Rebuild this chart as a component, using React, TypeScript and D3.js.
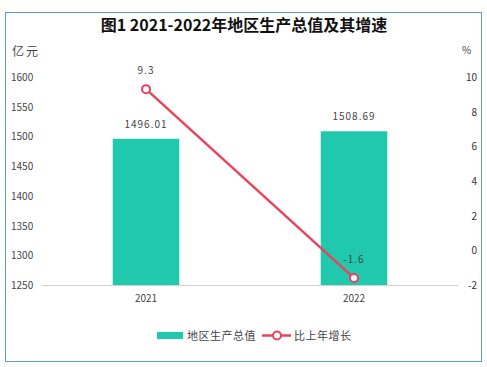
import { useEffect, useRef } from 'react';
import * as d3 from 'd3';

const years = ['2021', '2022'];
const gdp = [1496.01, 1508.69];
const growth = [9.3, -1.6];
const leftTicks = [1250, 1300, 1350, 1400, 1450, 1500, 1550, 1600];
const rightTicks = [-2, 0, 2, 4, 6, 8, 10];

const W = 487;
const H = 367;
const FONT = '"Noto Sans CJK SC", "Noto Sans", sans-serif';

export default function App() {
  const svgRef = useRef<SVGSVGElement>(null);

  useEffect(() => {
    if (!svgRef.current) return;
    const svg = d3.select(svgRef.current);
    svg.selectAll('*').remove();

    const left = 42, right = 458, top = 77, bottom = 285;

    const x = d3.scaleBand<string>().domain(years).range([left, right]).paddingInner(0.68).paddingOuter(0.34);
    const yL = d3.scaleLinear().domain([1250, 1600]).range([bottom, top]);
    const yR = d3.scaleLinear().domain([-2, 10]).range([bottom, top]);

    // border
    svg.append('rect')
      .attr('x', 5.5).attr('y', 12.5).attr('width', 476).attr('height', 349)
      .attr('fill', '#fff').attr('stroke', '#5b9bd5').attr('stroke-width', 1);

    // title
    const title = svg.append('text')
      .attr('x', 244).attr('y', 31)
      .attr('text-anchor', 'middle')
      .style('font-family', FONT).style('font-size', '16px')
      .style('fill', '#111');
    title.append('tspan').style('font-weight', 'bold').text('图1');
    title.append('tspan').style('font-weight', 'bold').text(' 2021-2022年地区生产总值及其增速');

    svg.append('text').attr('x', 12).attr('y', 56)
      .style('font-family', FONT).style('font-size', '12px').style('fill', '#444')
      .style('letter-spacing', '2px').text('亿元');
    svg.append('text').attr('x', 462).attr('y', 54)
      .style('font-family', FONT).style('font-size', '10px').style('fill', '#444').text('%');

    // left ticks
    svg.append('g').selectAll('text').data(leftTicks).join('text')
      .attr('x', 11).attr('y', d => yL(d) + 4)
      .style('font-family', FONT).style('font-size', '10px').style('fill', '#444')
      .text(d => d);

    svg.append('g').selectAll('text').data(rightTicks).join('text')
      .attr('x', 477).attr('y', d => yR(d) + 4)
      .attr('text-anchor', 'end')
      .style('font-family', FONT).style('font-size', '10px').style('fill', '#333')
      .text(d => d);

    // bars
    svg.append('g').selectAll('rect').data(years).join('rect')
      .attr('x', d => x(d)!)
      .attr('width', x.bandwidth())
      .attr('y', (_, i) => yL(gdp[i]))
      .attr('height', (_, i) => bottom - yL(gdp[i]))
      .attr('fill', '#20c9ad');

    // axis line
    svg.append('line')
      .attr('x1', left).attr('x2', right).attr('y1', bottom + 0.5).attr('y2', bottom + 0.5)
      .attr('stroke', '#d0d0d0').attr('stroke-width', 1);

    svg.append('g').selectAll('text').data(years).join('text')
      .attr('x', d => x(d)! + x.bandwidth() / 2).attr('y', 302)
      .attr('text-anchor', 'middle')
      .style('font-family', FONT).style('font-size', '10px').style('fill', '#444')
      .text(d => d);

    // bar labels
    svg.append('g').selectAll('text').data(years).join('text')
      .attr('x', d => x(d)! + x.bandwidth() / 2).attr('y', (_, i) => yL(gdp[i]) - 11)
      .attr('text-anchor', 'middle')
      .style('font-family', FONT).style('font-size', '10px').style('fill', '#444')
      .style('letter-spacing', '1px')
      .text((_, i) => gdp[i].toFixed(2));

    // line
    const cx = (i: number) => x(years[i])! + x.bandwidth() / 2;
    const line = d3.line<number>().x((_, i) => cx(i)).y(d => yR(d));
    svg.append('path').datum(growth)
      .attr('d', line).attr('fill', 'none')
      .attr('stroke', '#e9435d').attr('stroke-width', 2.5);
    svg.append('g').selectAll('circle').data(growth).join('circle')
      .attr('cx', (_, i) => cx(i)).attr('cy', d => yR(d)).attr('r', 4)
      .attr('fill', '#fff').attr('stroke', '#e9435d').attr('stroke-width', 2);

    svg.append('g').selectAll('text').data(growth).join('text')
      .attr('x', (_, i) => cx(i)).attr('y', d => yR(d) - 15)
      .attr('text-anchor', 'middle')
      .style('font-family', FONT).style('font-size', '10px').style('fill', '#444')
      .style('letter-spacing', '1px')
      .text(d => d.toFixed(1));

    // legend
    const lg = svg.append('g');
    lg.append('rect').attr('x', 157).attr('y', 332).attr('width', 26).attr('height', 7).attr('fill', '#20c9ad');
    lg.append('text').attr('x', 187).attr('y', 340)
      .style('font-family', FONT).style('font-size', '11px').style('fill', '#444')
      .style('letter-spacing', '0.5px').text('地区生产总值');
    lg.append('line').attr('x1', 262).attr('x2', 291).attr('y1', 335.5).attr('y2', 335.5)
      .attr('stroke', '#e9435d').attr('stroke-width', 2.5);
    lg.append('circle').attr('cx', 277).attr('cy', 335.5).attr('r', 4)
      .attr('fill', '#fff').attr('stroke', '#e9435d').attr('stroke-width', 2);
    lg.append('text').attr('x', 294).attr('y', 340)
      .style('font-family', FONT).style('font-size', '11px').style('fill', '#444')
      .style('letter-spacing', '0.5px').text('比上年增长');
  }, []);

  return (
    <svg ref={svgRef} width={W} height={H}
      style={{ position: 'absolute', left: 0, top: 0, display: 'block' }} />
  );
}
